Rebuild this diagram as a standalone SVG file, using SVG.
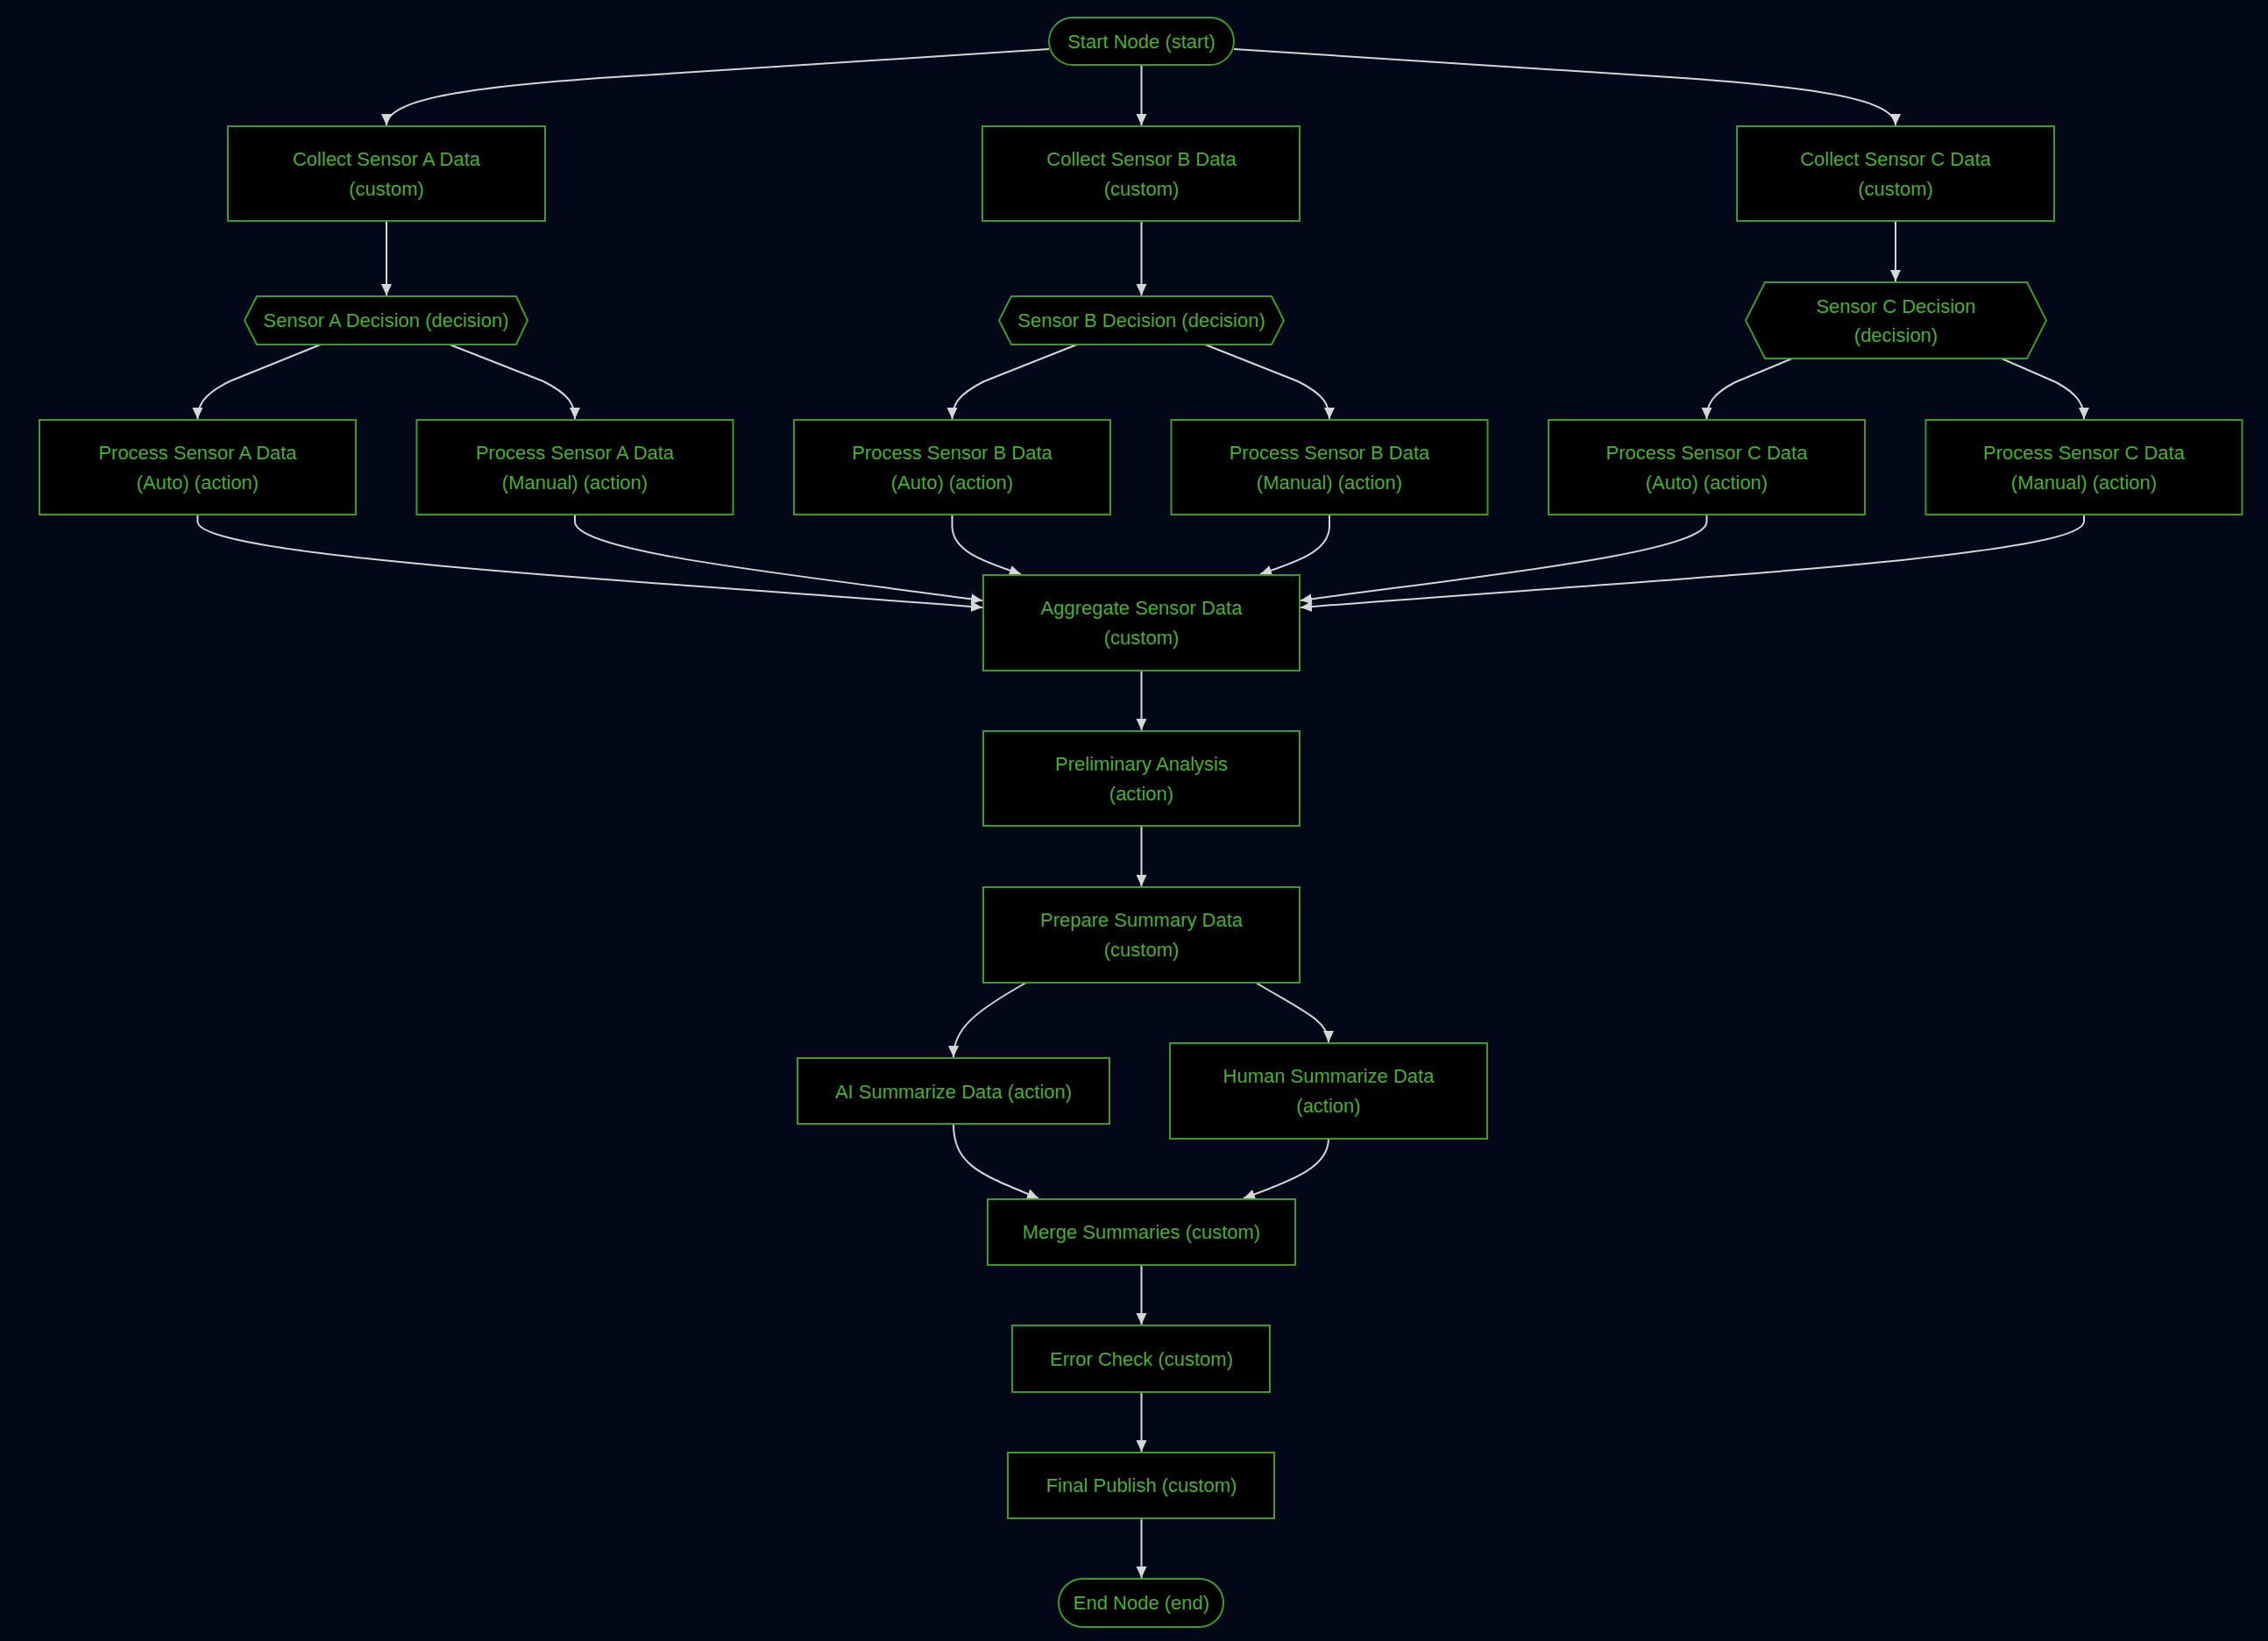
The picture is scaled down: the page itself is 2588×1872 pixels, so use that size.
<svg xmlns="http://www.w3.org/2000/svg" width="2588" height="1872" viewBox="0 0 2588 1872">
<style>
.n{fill:#000;stroke:#3d9b2b;stroke-width:2}
.t{fill:#4aad34;font-family:"Liberation Sans",Arial,sans-serif;font-size:22px;text-anchor:middle}
.e{fill:none;stroke:#d6d6d6;stroke-width:2;marker-end:url(#ah)}
</style>
<defs>
<marker id="ah" markerUnits="userSpaceOnUse" markerWidth="14" markerHeight="14" viewBox="0 0 14 14" refX="13" refY="7" orient="auto">
<path d="M0,1 L13,7 L0,13 Z" fill="#d6d6d6"/>
</marker>
</defs>
<rect width="2588" height="1872" fill="#020817"/>
<g id="connectors">
<path class="e" d="M1197,56 L700,88 C520,100 441,115 441,143"/>
<path class="e" d="M1302.5,74 L1302.5,143"/>
<path class="e" d="M1408,56 L1905,88 C2085,100 2163,115 2163,143"/>
<path class="e" d="M441,252 L441,337"/>
<path class="e" d="M1302.5,252 L1302.5,337"/>
<path class="e" d="M2163,252 L2163,321"/>
<path class="e" d="M366,393 L262,435 C232,450 225.5,462 225.5,478"/>
<path class="e" d="M513,393 L620,435 C650,450 656,462 656,478"/>
<path class="e" d="M1229,393 L1123,435 C1093,450 1086.5,462 1086.5,478"/>
<path class="e" d="M1375,393 L1481,435 C1511,450 1517,462 1517,478"/>
<path class="e" d="M2045,409 L1980,436 C1953,450 1947.5,462 1947.5,478"/>
<path class="e" d="M2284,409 L2346,436 C2372,450 2378,462 2378,478"/>
<path class="e" d="M225.5,587 L225.5,595 C225.5,635 700,660 1121,693"/>
<path class="e" d="M656,587 L656,595 C656,630 900,655 1121,685"/>
<path class="e" d="M1086.5,587 L1086.5,600 C1086.5,628 1120,640 1165,655"/>
<path class="e" d="M1517,587 L1517,600 C1517,628 1483,640 1438,655"/>
<path class="e" d="M1947.5,587 L1947.5,595 C1947.5,630 1705,655 1484,685"/>
<path class="e" d="M2378,587 L2378,595 C2378,635 1905,660 1484,693"/>
<path class="e" d="M1302.5,765 L1302.5,833"/>
<path class="e" d="M1302.5,942 L1302.5,1011"/>
<path class="e" d="M1171,1121 C1110,1155 1088,1175 1088,1206"/>
<path class="e" d="M1433,1121 C1490,1155 1516,1165 1516,1189"/>
<path class="e" d="M1088,1282 C1088,1330 1120,1340 1185,1367"/>
<path class="e" d="M1516,1299 C1516,1330 1480,1345 1419,1367"/>
<path class="e" d="M1302.5,1443 L1302.5,1511"/>
<path class="e" d="M1302.5,1588 L1302.5,1656"/>
<path class="e" d="M1302.5,1732 L1302.5,1800"/>
</g>
<g id="start"><rect class="n" x="1197" y="20" width="211" height="54" rx="27"/><text class="t" x="1302.5" y="55">Start Node (start)</text></g>
<g id="collectA"><rect class="n" x="260" y="144" width="362" height="108"/><text class="t" x="441" y="189">Collect Sensor A Data</text><text class="t" x="441" y="223">(custom)</text></g>
<g id="collectB"><rect class="n" x="1121" y="144" width="362" height="108"/><text class="t" x="1302.5" y="189">Collect Sensor B Data</text><text class="t" x="1302.5" y="223">(custom)</text></g>
<g id="collectC"><rect class="n" x="1982" y="144" width="362" height="108"/><text class="t" x="2163" y="189">Collect Sensor C Data</text><text class="t" x="2163" y="223">(custom)</text></g>
<g id="decisionA"><polygon class="n" points="279,365.5 293,338 589,338 602,365.5 589,393 293,393"/><text class="t" x="440.5" y="373">Sensor A Decision (decision)</text></g>
<g id="decisionB"><polygon class="n" points="1140,365.5 1154,338 1451,338 1465,365.5 1451,393 1154,393"/><text class="t" x="1302.5" y="373">Sensor B Decision (decision)</text></g>
<g id="decisionC"><polygon class="n" points="1992,365.5 2014,322 2313,322 2335,365.5 2313,409 2014,409"/><text class="t" x="2163.5" y="357">Sensor C Decision</text><text class="t" x="2163.5" y="390">(decision)</text></g>
<g id="procAAuto"><rect class="n" x="45" y="479" width="361" height="108"/><text class="t" x="225.5" y="524">Process Sensor A Data</text><text class="t" x="225.5" y="558">(Auto) (action)</text></g>
<g id="procAManual"><rect class="n" x="475.5" y="479" width="361" height="108"/><text class="t" x="656" y="524">Process Sensor A Data</text><text class="t" x="656" y="558">(Manual) (action)</text></g>
<g id="procBAuto"><rect class="n" x="906" y="479" width="361" height="108"/><text class="t" x="1086.5" y="524">Process Sensor B Data</text><text class="t" x="1086.5" y="558">(Auto) (action)</text></g>
<g id="procBManual"><rect class="n" x="1336.5" y="479" width="361" height="108"/><text class="t" x="1517" y="524">Process Sensor B Data</text><text class="t" x="1517" y="558">(Manual) (action)</text></g>
<g id="procCAuto"><rect class="n" x="1767" y="479" width="361" height="108"/><text class="t" x="1947.5" y="524">Process Sensor C Data</text><text class="t" x="1947.5" y="558">(Auto) (action)</text></g>
<g id="procCManual"><rect class="n" x="2197.5" y="479" width="361" height="108"/><text class="t" x="2378" y="524">Process Sensor C Data</text><text class="t" x="2378" y="558">(Manual) (action)</text></g>
<g id="aggregate"><rect class="n" x="1122" y="656" width="361" height="109"/><text class="t" x="1302.5" y="701">Aggregate Sensor Data</text><text class="t" x="1302.5" y="735">(custom)</text></g>
<g id="prelim"><rect class="n" x="1122" y="834" width="361" height="108"/><text class="t" x="1302.5" y="879">Preliminary Analysis</text><text class="t" x="1302.5" y="913">(action)</text></g>
<g id="prepare"><rect class="n" x="1122" y="1012" width="361" height="109"/><text class="t" x="1302.5" y="1057">Prepare Summary Data</text><text class="t" x="1302.5" y="1091">(custom)</text></g>
<g id="aiSum"><rect class="n" x="910" y="1207" width="356" height="75"/><text class="t" x="1088" y="1253">AI Summarize Data (action)</text></g>
<g id="humanSum"><rect class="n" x="1335" y="1190" width="362" height="109"/><text class="t" x="1516" y="1235">Human Summarize Data</text><text class="t" x="1516" y="1269">(action)</text></g>
<g id="merge"><rect class="n" x="1127" y="1368" width="351" height="75"/><text class="t" x="1302.5" y="1413">Merge Summaries (custom)</text></g>
<g id="errorCheck"><rect class="n" x="1155" y="1512" width="294" height="76"/><text class="t" x="1302.5" y="1558">Error Check (custom)</text></g>
<g id="finalPublish"><rect class="n" x="1150" y="1657" width="304" height="75"/><text class="t" x="1302.5" y="1702">Final Publish (custom)</text></g>
<g id="end"><rect class="n" x="1208" y="1801" width="188" height="55" rx="27.5"/><text class="t" x="1302.5" y="1836">End Node (end)</text></g>
</svg>
